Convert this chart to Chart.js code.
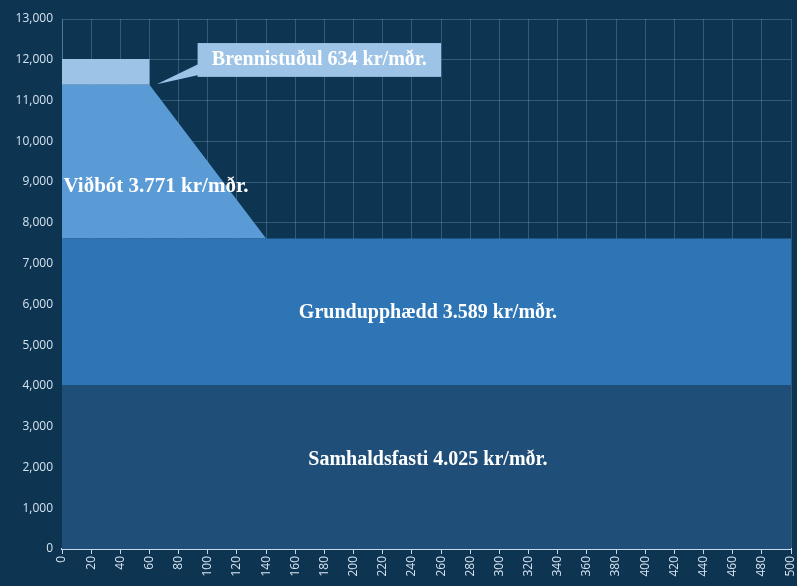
<!DOCTYPE html>
<html>
<head>
<meta charset="utf-8">
<script src="https://cdn.jsdelivr.net/npm/chart.js@4"></script>
<style>
  html, body { margin: 0; padding: 0; background: #0d3451; }
  #wrap { width: 797px; height: 586px; }
</style>
</head>
<body>
<div id="wrap"><canvas id="areaChart" width="797" height="586"></canvas></div>
<script>
// x positions (common to all series; 60 repeated for the step down)
var xPoints = [0, 60, 60, 140, 500];

// stacked series values
var samhaldsfasti = [4025, 4025, 4025, 4025, 4025];
var grundupphaedd = [3589, 3589, 3589, 3589, 3589];
var vidbot = [3771, 3771, 3771, 0, 0];
var brennistudull = [634, 634, 0, 0, 0];

var seriesNames = ['Samhaldsfasti', 'Grundupphædd', 'Viðbót', 'Brennistuðul'];
var seriesText = [
    'Samhaldsfasti 4.025 kr/mðr.',
    'Grundupphædd 3.589 kr/mðr.',
    'Viðbót 3.771 kr/mðr.',
    'Brennistuðul 634 kr/mðr.'
];

function toPoints(values) {
    return values.map(function (v, i) { return { x: xPoints[i], y: v }; });
}

// text labels drawn on top of the areas (data coords)
var labelPlugin = {
    id: 'areaLabels',
    afterDatasetsDraw: function (chart) {
        var ctx = chart.ctx;
        var xs = chart.scales.x, ys = chart.scales.y;
        ctx.save();
        ctx.font = 'bold 20px "Liberation Serif"';
        ctx.fillStyle = '#ffffff';
        ctx.textBaseline = 'middle';

        ctx.textAlign = 'center';
        ctx.fillText(seriesText[0], xs.getPixelForValue(251), ys.getPixelForValue(2180));
        ctx.fillText(seriesText[1], xs.getPixelForValue(251), ys.getPixelForValue(5790));

        ctx.textAlign = 'left';
        ctx.font = 'bold 21px "Liberation Serif"';
        ctx.fillText(seriesText[2], xs.getPixelForValue(1), ys.getPixelForValue(8880));

        // callout for Brennistuðul
        ctx.font = 'bold 20px "Liberation Serif"';
        var bx1 = xs.getPixelForValue(93), bx2 = xs.getPixelForValue(260);
        var by1 = ys.getPixelForValue(12410), by2 = ys.getPixelForValue(11580);
        ctx.fillStyle = '#9dc3e6';
        ctx.fillRect(bx1, by1, bx2 - bx1, by2 - by1);
        ctx.beginPath();
        ctx.moveTo(bx1 + 1, by1 + (by2 - by1) * 0.62);
        ctx.lineTo(xs.getPixelForValue(65), ys.getPixelForValue(11400));
        ctx.lineTo(bx1 + 1, by2 - 2);
        ctx.closePath();
        ctx.fill();
        ctx.fillStyle = '#ffffff';
        ctx.textAlign = 'center';
        ctx.fillText(seriesText[3], (bx1 + bx2) / 2, (by1 + by2) / 2);
        ctx.restore();
    }
};

var ctx = document.getElementById('areaChart').getContext('2d');
var areaChart = new Chart(ctx, {
    type: 'line',
    data: {
        datasets: [{
            label: seriesNames[0],
            data: toPoints(samhaldsfasti),
            backgroundColor: '#1f4e79',
            borderWidth: 0,
            fill: 'origin'
        }, {
            label: seriesNames[1],
            data: toPoints(grundupphaedd),
            backgroundColor: '#2e75b6',
            borderWidth: 0,
            fill: '-1'
        }, {
            label: seriesNames[2],
            data: toPoints(vidbot),
            backgroundColor: '#5b9bd5',
            borderWidth: 0,
            fill: '-1'
        }, {
            label: seriesNames[3],
            data: toPoints(brennistudull),
            backgroundColor: '#9dc3e6',
            borderWidth: 0,
            fill: '-1'
        }]
    },
    options: {
        responsive: false,
        animation: false,
        layout: { padding: { top: 19, right: 6, left: 0, bottom: 0 } },
        elements: { point: { radius: 0 }, line: { tension: 0 } },
        plugins: {
            legend: { display: false },
            tooltip: { enabled: false }
        },
        scales: {
            x: {
                type: 'linear',
                min: 0,
                max: 500,
                ticks: {
                    stepSize: 20,
                    minRotation: 90,
                    maxRotation: 90,
                    color: '#d6e3f0',
                    font: { family: 'Open Sans', size: 12 },
                    padding: 2
                },
                grid: {
                    color: 'rgba(150,190,225,0.28)',
                    tickColor: '#c5d9ee',
                    tickLength: 5
                },
                border: { color: '#c5d9ee', width: 2 },
                afterFit: function (scale) {
                    scale.height = 37;
                    scale.paddingLeft = 0;
                    scale.paddingRight = 0;
                }
            },
            y: {
                stacked: true,
                min: 0,
                max: 13000,
                ticks: {
                    stepSize: 1000,
                    color: '#d6e3f0',
                    font: { family: 'Open Sans', size: 12 },
                    padding: 9,
                    callback: function (v) { return v.toLocaleString('en-US'); }
                },
                grid: {
                    color: 'rgba(150,190,225,0.28)',
                    tickLength: 0
                },
                border: { color: 'rgba(150,190,225,0.28)' },
                afterFit: function (scale) {
                    scale.width = 62;
                    scale.paddingTop = 0;
                    scale.paddingBottom = 0;
                }
            }
        }
    },
    plugins: [labelPlugin]
});
</script>
</body>
</html>
